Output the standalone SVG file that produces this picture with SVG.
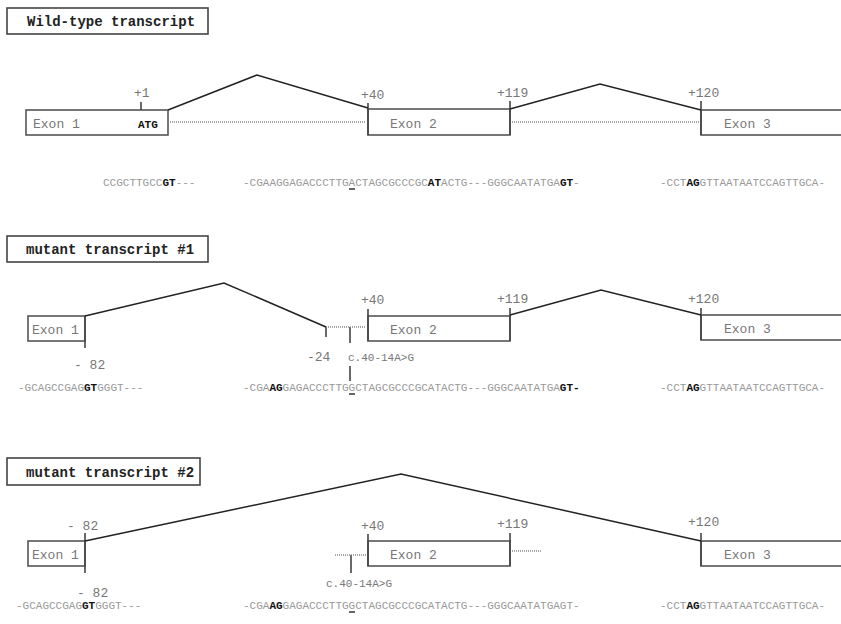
<svg xmlns="http://www.w3.org/2000/svg" width="841" height="624" viewBox="0 0 841 624">
<style>
.title{font-family:"Liberation Mono",monospace;font-weight:bold;font-size:14px;fill:#222}
.tbox{fill:#fff;stroke:#444;stroke-width:1.6}
.exon{fill:#fff;stroke:#555;stroke-width:1.6}
.lbl{font-family:"Liberation Mono",monospace;font-size:13px;fill:#777}
.mut{font-family:"Liberation Mono",monospace;font-size:11px;fill:#777}
.seq{font-family:"Liberation Mono",monospace;font-size:11px;fill:#999}
.b{font-weight:bold;fill:#111}
.tick{stroke:#444;stroke-width:1.6}
.intron{fill:none;stroke:#222;stroke-width:1.5}
.dot{stroke:#888;stroke-width:1.5;stroke-dasharray:1 1}
.ul{stroke:#333;stroke-width:1.5}
</style>
<rect width="841" height="624" fill="#fff"/>

<!-- Wild-type -->
<g id="title-wt"><rect class="tbox" x="7" y="8" width="201" height="26"/><text class="title" x="27" y="26">Wild-type transcript</text></g>
<g id="wt-exon1"><rect class="exon" x="26" y="110" width="142" height="25"/><text class="lbl" x="33" y="128">Exon 1</text><text class="mut b" x="138" y="128">ATG</text></g>
<g id="wt-exon2"><rect class="exon" x="368" y="109" width="142" height="26"/><text class="lbl" x="390" y="128">Exon 2</text></g>
<g id="wt-exon3"><rect class="exon" x="701" y="110" width="150" height="25"/><text class="lbl" x="724" y="128">Exon 3</text></g>
<g id="wt-labels">
<line class="tick" x1="141" y1="102" x2="141" y2="110"/><text class="lbl" x="134" y="97">+1</text>
<line class="tick" x1="368" y1="103" x2="368" y2="135"/><text class="lbl" x="361" y="99">+40</text>
<line class="tick" x1="510" y1="101" x2="510" y2="135"/><text class="lbl" x="497" y="97">+119</text>
<line class="tick" x1="701" y1="101" x2="701" y2="135"/><text class="lbl" x="688" y="97">+120</text>
</g>
<g id="wt-seq">
<text class="seq" x="103" y="186">CCGCTTGCC<tspan class="b">GT</tspan>---</text>
<text class="seq" x="243" y="186">-CGAAGGAGACCCTTGACTAGCGCCCGC<tspan class="b">AT</tspan>ACTG---GGGCAATATGA<tspan class="b">GT</tspan>-</text>
<line class="ul" x1="349" y1="189" x2="355" y2="189"/>
<text class="seq" x="660" y="186">-CCT<tspan class="b">AG</tspan>GTTAATAATCCAGTTGCA-</text>
</g>

<!-- Mutant 1 -->
<g id="title-m1"><rect class="tbox" x="7" y="236" width="201" height="26"/><text class="title" x="26" y="254">mutant transcript #1</text></g>
<g id="m1-exon1"><rect class="exon" x="28" y="316" width="57" height="25"/><text class="lbl" x="32" y="334">Exon 1</text></g>
<g id="m1-exon2"><rect class="exon" x="368" y="316" width="142" height="25"/><text class="lbl" x="390" y="334">Exon 2</text></g>
<g id="m1-exon3"><rect class="exon" x="701" y="315" width="150" height="25"/><text class="lbl" x="724" y="333">Exon 3</text></g>
<g id="m1-labels">
<line class="tick" x1="85" y1="316" x2="85" y2="348"/><text class="lbl" x="74" y="369">- 82</text>
<line class="tick" x1="326" y1="327" x2="326" y2="337"/><text class="lbl" x="307" y="361">-24</text>
<line class="tick" x1="350" y1="327" x2="350" y2="343"/><text class="mut" x="348" y="361">c.40-14A&gt;G</text>
<line class="tick" x1="350" y1="366" x2="350" y2="381"/>
<line class="tick" x1="368" y1="309" x2="368" y2="341"/><text class="lbl" x="361" y="304">+40</text>
<line class="tick" x1="510" y1="308" x2="510" y2="341"/><text class="lbl" x="497" y="303">+119</text>
<line class="tick" x1="701" y1="308" x2="701" y2="340"/><text class="lbl" x="688" y="303">+120</text>
</g>
<g id="m1-seq">
<text class="seq" x="18" y="391">-GCAGCCGAG<tspan class="b">GT</tspan>GGGT---</text>
<text class="seq" x="243" y="391">-CGA<tspan class="b">AG</tspan>GAGACCCTTGGCTAGCGCCCGCATACTG---GGGCAATATGA<tspan class="b">GT-</tspan></text>
<line class="ul" x1="349" y1="394" x2="355" y2="394"/>
<text class="seq" x="660" y="391">-CCT<tspan class="b">AG</tspan>GTTAATAATCCAGTTGCA-</text>
</g>

<!-- Mutant 2 -->
<g id="title-m2"><rect class="tbox" x="7" y="458" width="193" height="27"/><text class="title" x="26" y="477">mutant transcript #2</text></g>
<g id="m2-exon1"><rect class="exon" x="28" y="541" width="57" height="25"/><text class="lbl" x="32" y="559">Exon 1</text></g>
<g id="m2-exon2"><rect class="exon" x="368" y="541" width="142" height="25"/><text class="lbl" x="390" y="559">Exon 2</text></g>
<g id="m2-exon3"><rect class="exon" x="701" y="541" width="150" height="25"/><text class="lbl" x="724" y="559">Exon 3</text></g>
<g id="m2-labels">
<line class="tick" x1="85" y1="533" x2="85" y2="573"/>
<text class="lbl" x="67" y="530">- 82</text><text class="lbl" x="77" y="597">- 82</text>
<line class="tick" x1="351" y1="555" x2="351" y2="573"/><text class="mut" x="326" y="587">c.40-14A&gt;G</text>
<line class="tick" x1="368" y1="534" x2="368" y2="566"/><text class="lbl" x="361" y="530">+40</text>
<line class="tick" x1="510" y1="533" x2="510" y2="566"/><text class="lbl" x="497" y="528">+119</text>
<line class="tick" x1="701" y1="533" x2="701" y2="566"/><text class="lbl" x="688" y="526">+120</text>
</g>
<g id="m2-seq">
<text class="seq" x="16" y="609">-GCAGCCGAG<tspan class="b">GT</tspan>GGGT---</text>
<text class="seq" x="243" y="609">-CGA<tspan class="b">AG</tspan>GAGACCCTTGGCTAGCGCCCGCATACTG---GGGCAATATGAGT-</text>
<line class="ul" x1="349" y1="612" x2="355" y2="612"/>
<text class="seq" x="660" y="609">-CCT<tspan class="b">AG</tspan>GTTAATAATCCAGTTGCA-</text>
</g>

<g id="connectors">
<polyline class="intron" points="168,110 257,75 368,108"/>
<polyline class="intron" points="510,109 600,84 701,110"/>
<line class="dot" x1="170" y1="122" x2="366" y2="122"/>
<line class="dot" x1="512" y1="122" x2="699" y2="122"/>
<polyline class="intron" points="85,316 224,283 326,327"/>
<polyline class="intron" points="510,315 601,290 701,315"/>
<line class="dot" x1="326" y1="327" x2="366" y2="327"/>
<polyline class="intron" points="85,541 401,474 701,541"/>
<line class="dot" x1="335" y1="555" x2="366" y2="555"/>
<line class="dot" x1="512" y1="551" x2="541" y2="551"/>
</g>
</svg>
